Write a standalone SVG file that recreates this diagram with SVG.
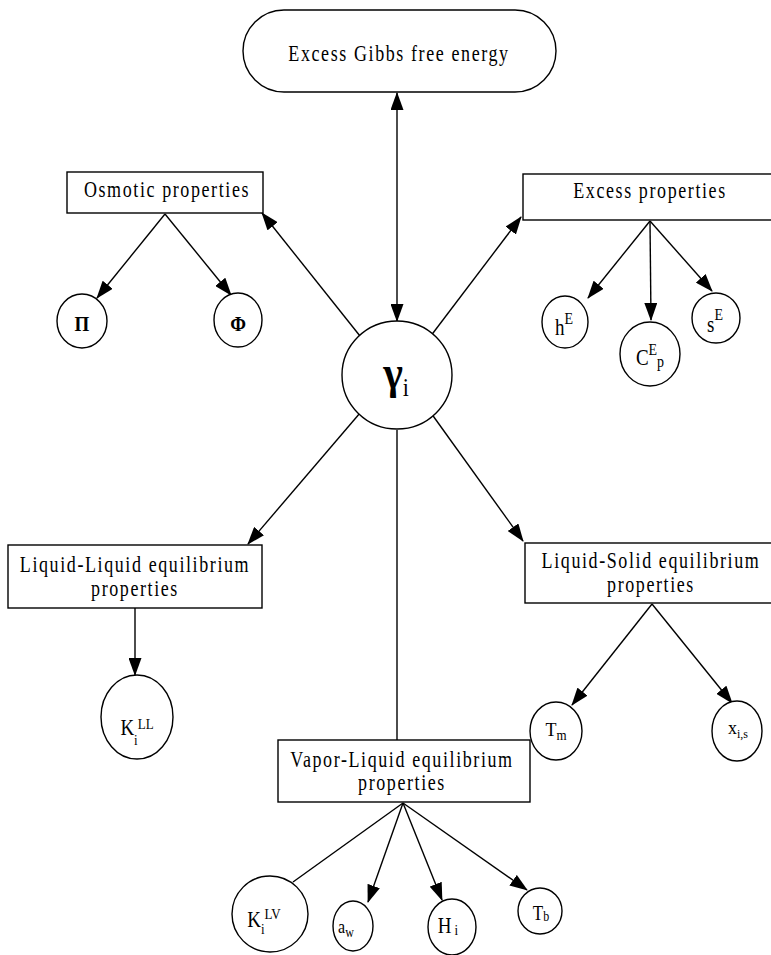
<svg xmlns="http://www.w3.org/2000/svg" width="771" height="955" viewBox="0 0 771 955">
  <style>
    .shape { fill: #fff; stroke: #000; stroke-width: 1.4; }
    .line { fill: none; stroke: #000; stroke-width: 1.4; }
    .arrow { marker-end: url(#head); }
    .both { marker-start: url(#head); marker-end: url(#head); }
    text { font-family: "Liberation Serif", "Times New Roman", serif; fill: #000; }
    .box-label { font-size: 18px; letter-spacing: 1.6px; text-anchor: middle; }
    .sym { font-size: 19px; text-anchor: middle; }
  </style>
  <defs>
    <marker id="head" markerUnits="userSpaceOnUse" markerWidth="18" markerHeight="13" refX="17" refY="6.5" orient="auto-start-reverse" viewBox="0 0 18 13">
      <path d="M0,0 L18,6.5 L0,13 z" fill="#000"/>
    </marker>
  </defs>
  <rect width="771" height="955" fill="#fff"/>

  <!-- connectors -->
  <g id="connectors">
    <line class="line both" x1="397" y1="93" x2="397" y2="321"/>
    <line class="line arrow" x1="360" y1="336" x2="262" y2="213"/>
    <line class="line arrow" x1="430" y1="337" x2="521" y2="217"/>
    <line class="line arrow" x1="360" y1="413" x2="248" y2="544"/>
    <line class="line arrow" x1="431" y1="413" x2="523" y2="541"/>
    <line class="line" x1="397" y1="430" x2="397" y2="740"/>
    <!-- osmotic branch -->
    <line class="line arrow" x1="165" y1="214" x2="97" y2="298"/>
    <line class="line arrow" x1="165" y1="214" x2="231" y2="295"/>
    <!-- excess branch -->
    <line class="line arrow" x1="650" y1="221" x2="588" y2="298"/>
    <line class="line arrow" x1="650" y1="221" x2="651" y2="320"/>
    <line class="line arrow" x1="650" y1="221" x2="712" y2="291"/>
    <!-- liquid-liquid branch -->
    <line class="line arrow" x1="135" y1="608" x2="135" y2="675"/>
    <!-- liquid-solid branch -->
    <line class="line arrow" x1="652" y1="604" x2="572" y2="705"/>
    <line class="line arrow" x1="652" y1="604" x2="732" y2="703"/>
    <!-- vapor-liquid branch -->
    <line class="line" x1="403" y1="803" x2="293" y2="882"/>
    <line class="line arrow" x1="403" y1="803" x2="368" y2="902"/>
    <line class="line arrow" x1="403" y1="803" x2="442" y2="900"/>
    <line class="line arrow" x1="403" y1="803" x2="527" y2="890"/>
  </g>

  <g id="gibbs">
    <rect class="shape" x="243" y="10" width="313" height="82" rx="41" ry="41"/>
    <text class="box-label" transform="translate(399 61) scale(1 1.27)">Excess Gibbs free energy</text>
  </g>

  <g id="gamma">
    <ellipse class="shape" cx="397" cy="375" rx="55" ry="54"/>
    <text class="sym" transform="translate(396 388) scale(1 1.1)"><tspan font-size="42px" font-weight="bold">γ</tspan><tspan font-size="22px" dy="7">i</tspan></text>
  </g>

  <g id="osmotic">
    <rect class="shape" x="67" y="172" width="196" height="41"/>
    <text class="box-label" transform="translate(167 197) scale(1 1.27)">Osmotic properties</text>
  </g>

  <g id="pi">
    <ellipse class="shape" cx="82" cy="321" rx="25" ry="27"/>
    <text class="sym" font-weight="bold" transform="translate(82 331) scale(1 1.15)">Π</text>
  </g>
  <g id="phi">
    <ellipse class="shape" cx="238" cy="320" rx="24" ry="27"/>
    <text class="sym" font-weight="bold" transform="translate(238 331) scale(1 1.15)">Φ</text>
  </g>

  <g id="excess">
    <rect class="shape" x="523" y="174" width="260" height="46"/>
    <text class="box-label" transform="translate(650 198) scale(1 1.27)">Excess properties</text>
  </g>

  <g id="hE">
    <ellipse class="shape" cx="565" cy="322" rx="23" ry="26"/>
    <text class="sym" transform="translate(564 335) scale(1 1.2)"><tspan>h</tspan><tspan font-size="14px" dy="-9">E</tspan></text>
  </g>
  <g id="cEp">
    <ellipse class="shape" cx="650" cy="354" rx="30" ry="32"/>
    <text class="sym" transform="translate(650 365) scale(1 1.2)"><tspan>C</tspan><tspan font-size="14px" dy="-8">E</tspan><tspan font-size="14px" dy="10">p</tspan></text>
  </g>
  <g id="sE">
    <ellipse class="shape" cx="716" cy="318" rx="24" ry="25"/>
    <text class="sym" transform="translate(715 332) scale(1 1.2)"><tspan>s</tspan><tspan font-size="14px" dy="-10">E</tspan></text>
  </g>

  <g id="liquid-liquid">
    <rect class="shape" x="8" y="545" width="254" height="63"/>
    <text class="box-label" transform="translate(135 572) scale(1 1.27)">Liquid-Liquid equilibrium</text>
    <text class="box-label" transform="translate(135 596) scale(1 1.27)">properties</text>
  </g>
  <g id="kLL">
    <ellipse class="shape" cx="137" cy="717" rx="36" ry="42"/>
    <text class="sym" transform="translate(137 735) scale(1 1.2)"><tspan>K</tspan><tspan font-size="13px" dy="8">i</tspan><tspan font-size="13px" dy="-13">LL</tspan></text>
  </g>

  <g id="liquid-solid">
    <rect class="shape" x="525" y="543" width="258" height="60"/>
    <text class="box-label" transform="translate(651 568) scale(1 1.27)">Liquid-Solid equilibrium</text>
    <text class="box-label" transform="translate(651 592) scale(1 1.27)">properties</text>
  </g>
  <g id="tm">
    <ellipse class="shape" cx="556" cy="731" rx="26" ry="29"/>
    <text class="sym" transform="translate(556 736) scale(1 1.1)"><tspan font-size="18px">T</tspan><tspan font-size="13px" dy="4">m</tspan></text>
  </g>
  <g id="xis">
    <ellipse class="shape" cx="737" cy="731" rx="25" ry="30"/>
    <text class="sym" transform="translate(738 734) scale(1 1.1)"><tspan font-size="18px">x</tspan><tspan font-size="12px" dy="4">i,s</tspan></text>
  </g>

  <g id="vapor-liquid">
    <rect class="shape" x="278" y="740" width="252" height="62"/>
    <text class="box-label" transform="translate(402 767) scale(1 1.27)">Vapor-Liquid equilibrium</text>
    <text class="box-label" transform="translate(402 790) scale(1 1.27)">properties</text>
  </g>
  <g id="kLV">
    <ellipse class="shape" cx="270" cy="914" rx="38" ry="38"/>
    <text class="sym" transform="translate(264 927) scale(1 1.2)"><tspan>K</tspan><tspan font-size="13px" dy="6">i</tspan><tspan font-size="13px" dy="-13">LV</tspan></text>
  </g>
  <g id="aw">
    <ellipse class="shape" cx="353" cy="926" rx="20" ry="25"/>
    <text class="sym" transform="translate(346 933) scale(1 1.2)"><tspan font-size="16px">a</tspan><tspan font-size="12px" dy="3">w</tspan></text>
  </g>
  <g id="hi">
    <ellipse class="shape" cx="452" cy="927" rx="24" ry="28"/>
    <text class="sym" transform="translate(448 933) scale(1 1.2)"><tspan>H</tspan><tspan font-size="13px" dx="3" dy="2">i</tspan></text>
  </g>
  <g id="tb">
    <ellipse class="shape" cx="540" cy="911" rx="22" ry="23"/>
    <text class="sym" transform="translate(541 920) scale(1 1.2)"><tspan font-size="17px">T</tspan><tspan font-size="12px" dy="1">b</tspan></text>
  </g>
</svg>
